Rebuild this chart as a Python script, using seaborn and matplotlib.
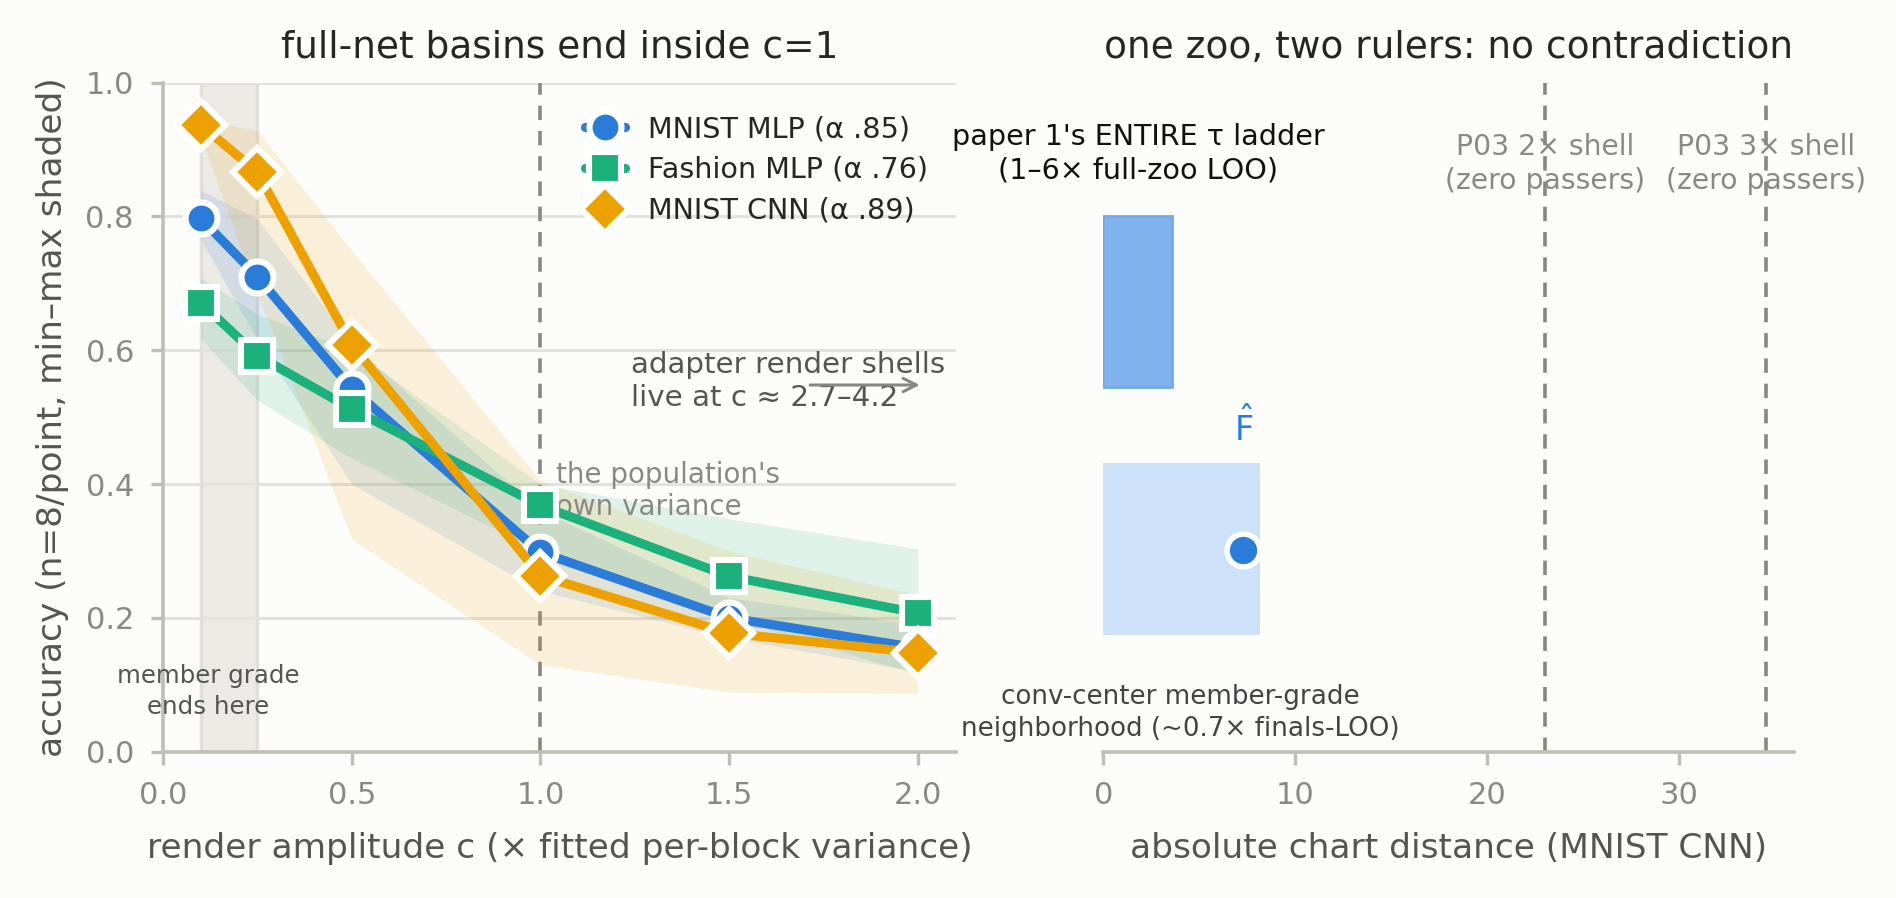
import matplotlib
matplotlib.use("Agg")
import matplotlib.pyplot as plt
import seaborn as sns

# render amplitude sweep (left panel)
amp = [0.1, 0.25, 0.5, 1.0, 1.5, 2.0]

mlp_mean = [0.797, 0.710, 0.542, 0.298, 0.200, 0.155]
mlp_lo = [0.766, 0.615, 0.400, 0.240, 0.170, 0.120]
mlp_hi = [0.839, 0.796, 0.610, 0.360, 0.230, 0.190]

fash_mean = [0.671, 0.592, 0.512, 0.368, 0.262, 0.207]
fash_lo = [0.617, 0.525, 0.438, 0.300, 0.200, 0.115]
fash_hi = [0.708, 0.654, 0.600, 0.400, 0.348, 0.303]

cnn_mean = [0.937, 0.866, 0.608, 0.263, 0.177, 0.148]
cnn_lo = [0.918, 0.685, 0.318, 0.130, 0.089, 0.087]
cnn_hi = [0.945, 0.928, 0.749, 0.405, 0.300, 0.234]

series_names = ["MNIST MLP (α .85)", "Fashion MLP (α .76)", "MNIST CNN (α .89)"]
series_colors = ["#2b7bd8", "#1cb07c", "#eda100"]
series_markers = ["o", "s", "D"]

member_grade = (0.1, 0.25)

# chart distances (right panel)
ladder_range = (0.0, 3.6)
ladder_y = (0.545, 0.80)
neigh_range = (0.0, 8.15)
neigh_y = (0.174, 0.431)
fhat_dist = 7.3
fhat_y = 0.302
shell_dists = [23.05, 34.57]
shell_labels = ["P03 2× shell\n(zero passers)", "P03 3× shell\n(zero passers)"]

bg = "#fcfcfa"
spine_c = "#bfbfb3"
tick_c = "#8a8a84"
label_c = "#555555"

sns.set_theme(style="white")
plt.rcParams["font.family"] = ["DejaVu Sans"]
plt.rcParams["axes.facecolor"] = bg
plt.rcParams["figure.facecolor"] = bg

fig = plt.figure(figsize=(9.48, 4.49), dpi=200)
ax = fig.add_axes([0.086, 0.163, 0.418, 0.745])
ax2 = fig.add_axes([0.582, 0.163, 0.364, 0.745], sharey=ax)

# --- left panel ---
ax.axvspan(*member_grade, color="#e6e4df", alpha=0.75, lw=1.2, ec="#dcd9d2", zorder=0)
ax.axvline(1.0, color="#888882", ls=(0, (4, 3)), lw=1.3, zorder=1)

bands = [(mlp_lo, mlp_hi), (fash_lo, fash_hi), (cnn_lo, cnn_hi)]
means = [mlp_mean, fash_mean, cnn_mean]
for (lo, hi), col in zip(bands, series_colors):
    ax.fill_between(amp, lo, hi, color=col, alpha=0.13, lw=0, zorder=2)

for m, name, col, mk in zip(means, series_names, series_colors, series_markers):
    ms = 11.5 if mk != "D" else 12
    sns.lineplot(x=amp, y=m, ax=ax, color=col, marker=mk, markersize=ms,
                 markeredgecolor="white", markeredgewidth=2.2, linewidth=3.3,
                 label=name, zorder=4)

ax.set_xlim(0, 2.1)
ax.set_ylim(0, 1.0)
ax.set_xticks([0.0, 0.5, 1.0, 1.5, 2.0])
ax.set_yticks([0.0, 0.2, 0.4, 0.6, 0.8, 1.0])
ax.yaxis.grid(True, color="#e3e2db", lw=1.1)
ax.set_axisbelow(True)
for s in ["top", "right"]:
    ax.spines[s].set_visible(False)
for s in ["left", "bottom"]:
    ax.spines[s].set_color(spine_c)
    ax.spines[s].set_linewidth(1.3)
ax.tick_params(colors=tick_c, labelsize=11, length=4.5, width=1.2, color=spine_c,
               bottom=True, left=True, pad=6)
ax.set_xlabel("render amplitude c (× fitted per-block variance)", color=label_c,
              fontsize=12.4, labelpad=8)
ax.set_ylabel("accuracy (n=8/point, min–max shaded)", color=label_c, fontsize=12.4,
              labelpad=6)
ax.set_title("full-net basins end inside c=1", fontsize=13.5, pad=9)

ax.text(0.12, 0.09, "member grade\nends here", ha="center", va="center",
        fontsize=8.8, color="#555555", linespacing=1.4)
ax.text(1.042, 0.39, "the population's\nown variance", ha="left", va="center",
        fontsize=10, color="#8a8a84", zorder=3, linespacing=1.2)
ax.text(1.24, 0.553, "adapter render shells\nlive at c ≈ 2.7–4.2", ha="left",
        va="center", fontsize=10.6, color="#555555", linespacing=1.25)
ax.annotate("", xy=(2.02, 0.548), xytext=(1.70, 0.548),
            arrowprops=dict(arrowstyle="->", color="#888882", lw=1.1))

leg = ax.legend(loc="upper left", bbox_to_anchor=(0.50, 0.99), frameon=False,
                fontsize=10.3, handlelength=1.4, labelspacing=0.45, handletextpad=0.8)

# --- right panel ---
ax2.barh(y=(ladder_y[0] + ladder_y[1]) / 2, width=ladder_range[1] - ladder_range[0],
         left=ladder_range[0], height=ladder_y[1] - ladder_y[0],
         color="#80b2ed", edgecolor="#74a8ea", lw=1.0, zorder=2)
ax2.barh(y=(neigh_y[0] + neigh_y[1]) / 2, width=neigh_range[1] - neigh_range[0],
         left=neigh_range[0], height=neigh_y[1] - neigh_y[0],
         color="#cde2f9", lw=0, zorder=1)
sns.scatterplot(x=[fhat_dist], y=[fhat_y], ax=ax2, color=series_colors[0], s=140,
                edgecolor="white", linewidth=2.0, zorder=4)
ax2.text(fhat_dist, 0.485, r"$\hat{\mathrm{F}}$", ha="center", va="center",
         fontsize=12, color=series_colors[0])

for d, lab in zip(shell_dists, shell_labels):
    ax2.axvline(d, color="#888882", ls=(0, (4, 3)), lw=1.3, zorder=1)
    ax2.text(d, 0.878, lab, ha="center", va="center", fontsize=10.2,
             color="#8a8a84", linespacing=1.25)

ax2.text(1.8, 0.894, "paper 1's ENTIRE τ ladder\n(1–6× full-zoo LOO)", ha="center",
         va="center", fontsize=10.3, color="#111111", linespacing=1.25)
ax2.text(4.0, 0.057, "conv-center member-grade\nneighborhood (~0.7× finals-LOO)",
         ha="center", va="center", fontsize=9.4, color="#444444", linespacing=1.3)

ax2.set_xlim(0, 36)
ax2.set_xticks([0, 10, 20, 30])
for s in ["top", "right", "left"]:
    ax2.spines[s].set_visible(False)
ax2.spines["bottom"].set_color(spine_c)
ax2.spines["bottom"].set_linewidth(1.3)
ax2.tick_params(axis="x", colors=tick_c, labelsize=11, length=4.5, width=1.2,
                color=spine_c, bottom=True, pad=6)
ax2.tick_params(axis="y", left=False, labelleft=False)
ax2.set_xlabel("absolute chart distance (MNIST CNN)", color=label_c, fontsize=12.4,
               labelpad=8)
ax2.set_title("one zoo, two rulers: no contradiction", fontsize=13.5, pad=9)

fig.savefig("out.png", dpi=200, facecolor=bg)
